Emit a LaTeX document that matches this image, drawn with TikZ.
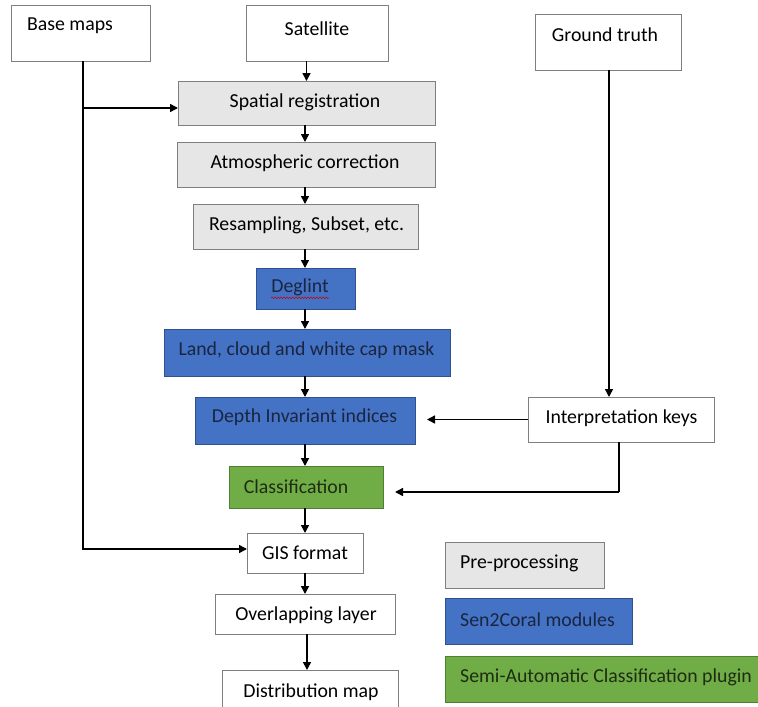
\documentclass[tikz,border=0pt]{standalone}
\usepackage{fontspec}
\setmainfont{Carlito}
\usetikzlibrary{arrows.meta,decorations.pathmorphing}
\definecolor{pgray}{HTML}{E7E6E6}
\definecolor{pblue}{HTML}{4472C4}
\definecolor{pblueb}{HTML}{2F528F}
\definecolor{pgreen}{HTML}{70AD47}
\definecolor{pgreenb}{HTML}{507E32}
\definecolor{bordgray}{HTML}{7F7F7F}
\definecolor{bluetext}{HTML}{1A2540}
\definecolor{greentext}{HTML}{1E2C12}
\tikzset{
  box/.style={draw=bordgray, line width=1pt, fill=white, inner sep=0pt, outer sep=0pt},
  graybox/.style={box, fill=pgray},
  bluebox/.style={box, draw=pblueb, fill=pblue},
  greenbox/.style={box, draw=pgreenb, fill=pgreen},
  txt/.style={font=\fontsize{19.8}{23}\selectfont, inner sep=0pt, anchor=center},
  ltxt/.style={txt, anchor=west},
  arr/.style={line width=1.5pt, -{Triangle[length=8pt,width=8pt]}},
  ln/.style={line width=1.5pt},
}
\newcommand{\bx}[6]{\node[#1, minimum width=#4pt, minimum height=#5pt] (#6) at (#2,#3) {};}
\begin{document}
\begin{tikzpicture}[x=1pt,y=-1pt]
\clip (0,0) rectangle (758,707);
\fill[white] (0,0) rectangle (758,707);
% boxes
\bx{box}{80.5}{33}{139}{56}{basemaps}
\bx{box}{317}{33}{142}{56}{sat}
\bx{box}{608}{42}{146}{56}{ground}
\bx{graybox}{306.5}{103}{257}{44}{spatial}
\bx{graybox}{306}{164.5}{258}{45}{atmos}
\bx{graybox}{305.5}{226.5}{225}{45}{resamp}
\bx{bluebox}{305.5}{288.5}{99}{41}{deglint}
\bx{bluebox}{307}{352.5}{286}{47}{land}
\bx{bluebox}{305}{420.5}{220}{47}{depth}
\bx{greenbox}{306}{487}{154}{42}{classif}
\bx{box}{305}{553}{116}{40}{gis}
\bx{box}{305}{614}{180}{40}{overlap}
\bx{box}{310}{692}{176}{44}{distr}
\bx{box}{621}{419.5}{186}{45}{interp}
\bx{graybox}{524.5}{565}{159}{46}{legpre}
\bx{bluebox}{538.5}{621}{187}{46}{legsen}
\bx{greenbox}{601.5}{679}{313}{46}{legsemi}
% texts
\node[txt] (t1) at (70,26) {Base maps};
\node[txt] (t2) at (317,29) {Satellite};
\node[txt] (t3) at (605,35) {Ground truth};
\node[txt] (t4) at (305,102) {Spatial registration};
\node[txt] (t5) at (305,163) {Atmospheric correction};
\node[txt] (t6) at (306.5,225) {Resampling, Subset, etc.};
\node[txt, text=bluetext] (t7) at (300,287) {Deglint};
\node[txt, text=bluetext] (t8) at (306.5,350) {Land, cloud and white cap mask};
\node[txt, text=bluetext] (t9) at (304.5,417) {Depth Invariant indices};
\node[txt, text=greentext] (t10) at (296,487) {Classification};
\node[txt] (t11) at (305,553) {GIS format};
\node[txt] (t12) at (306,615) {Overlapping layer};
\node[txt] (t13) at (311,692) {Distribution map};
\node[txt] (t14) at (621.5,418) {Interpretation keys};
\node[ltxt] (t15) at (460,563) {Pre-processing};
\node[ltxt, text=bluetext] (t16) at (460,620) {Sen2Coral modules};
\node[ltxt, text=greentext] (t17) at (460,677) {Semi-Automatic Classification plugin};
% spell-check underline
\draw[red!80!black, line width=0.5pt, decorate, decoration={snake, amplitude=0.8pt, segment length=3pt}] ([yshift=-2pt]t7.south west) -- ([yshift=-2pt]t7.south east);
% connectors
\draw[arr] (sat.south -| spatial.north) -- (spatial.north);
\draw[arr] (spatial.south -| 305,0) -- (atmos.north -| 305,0);
\draw[arr] (atmos.south -| 305,0) -- (resamp.north -| 305,0);
\draw[arr] (resamp.south -| 305,0) -- (deglint.north -| 305,0);
\draw[arr] (deglint.south -| 305,0) -- (land.north -| 305,0);
\draw[arr] (land.south -| 305,0) -- (depth.north -| 305,0);
\draw[arr] (depth.south -| 305,0) -- (classif.north -| 305,0);
\draw[arr] (classif.south -| 305,0) -- (gis.north -| 305,0);
\draw[arr] (gis.south -| 305,0) -- (overlap.north -| 305,0);
\draw[arr] (overlap.south -| 307,0) -- (distr.north -| 307,0);
\draw[arr] ([xshift=2.5pt]basemaps.south) |- ([yshift=4pt]gis.west);
\draw[arr] ([xshift=2.5pt]basemaps.south |- 0,108) -- (spatial.west |- 0,108);
\draw[arr] ([xshift=1pt]ground.south) -- ([xshift=1pt]ground.south |- interp.north);
\draw[arr, shorten >=12pt] (interp.west) -- (interp.west -| depth.east);
\draw[ln] ([xshift=-2pt]interp.south) -- ([xshift=-2pt]interp.south |- 0,492) coordinate (ic);
\draw[arr, shorten >=12pt] (ic) -- (ic -| classif.east);
\end{tikzpicture}
\end{document}
